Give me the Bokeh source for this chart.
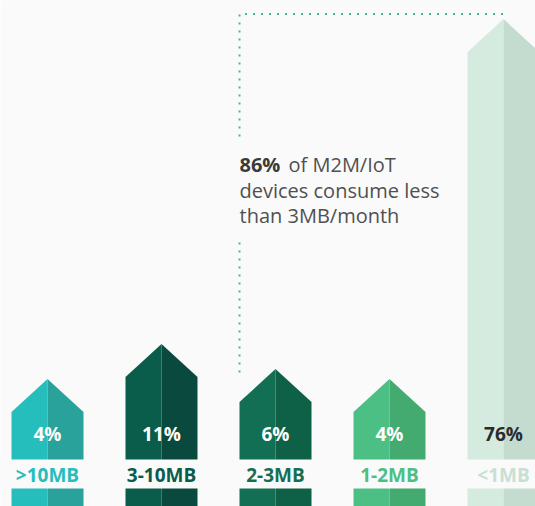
import re
from bokeh.plotting import figure
from bokeh.models import ColumnDataSource, Range1d
from bokeh.core.properties import value
from bokeh.embed import file_html
from bokeh.resources import INLINE

# ---- data ----
categories = [">10MB", "3-10MB", "2-3MB", "1-2MB", "<1MB"]
shares = [4, 11, 6, 4, 76]
small_users = ["2-3MB", "1-2MB", "<1MB"]   # categories below 3MB/month

# ---- styles ----
BG = "#fafafa"
left_colors = ["#26bdbd", "#0a5c4b", "#136f54", "#4cbf84", "#d5ebe0"]
right_colors = ["#2aa29c", "#0a4a3e", "#0e6047", "#43ab70", "#c4dcd0"]
label_colors = ["#26bdbd", "#0a5c4b", "#136f54", "#4cbf84", "#c8e0d4"]
pct_colors = ["#ffffff", "#ffffff", "#ffffff", "#ffffff", "#2b2b2b"]
FONT = value("Open Sans")

W, H = 535, 506
PX_X = 114.0   # pixels per category step
PX_Y = 5.0     # pixels per percentage point
x0 = -47.0 / PX_X
y_top = 398.5 / PX_Y
p = figure(width=W, height=H, output_backend="svg", toolbar_location=None,
           x_range=Range1d(x0, x0 + W / PX_X),
           y_range=Range1d(y_top - H / PX_Y, y_top),
           x_axis_location=None, y_axis_location=None,
           min_border=0, outline_line_color=None,
           background_fill_color=BG, border_fill_color=BG)
p.grid.visible = False

hw = 36.0 / PX_X      # half bar width
head = 33.0 / PX_Y    # arrow head height
bottom = y_top - (H + 40) / PX_Y

idx = list(range(len(categories)))
lx, ly, rx, ry = [], [], [], []
for i, v in zip(idx, shares):
    lx.append([i - hw, i - hw, i, i])
    ly.append([bottom, v - head, v, bottom])
    rx.append([i, i, i + hw, i + hw])
    ry.append([bottom, v, v - head, bottom])

p.patches(xs=lx, ys=ly, fill_color=left_colors, line_color=None)
p.patches(xs=rx, ys=ry, fill_color=right_colors, line_color=None)

# label band
band_top = y_top - 459 / PX_Y
band_bot = y_top - 488 / PX_Y
p.quad(left=x0 - 1, right=x0 + W / PX_X + 1, bottom=band_bot, top=band_top,
       fill_color=BG, line_color=None)

src = ColumnDataSource(dict(x=idx, pct=[f"{v}%" for v in shares], cat=categories,
                            pc=pct_colors, lc=label_colors))
p.text(x="x", y=y_top - 433 / PX_Y, text="pct", source=src, text_color="pc",
       text_align="center", text_baseline="middle", text_font=FONT,
       text_font_style="bold", text_font_size="19px")
p.text(x="x", y=y_top - 474 / PX_Y, text="cat", source=src, text_color="lc",
       text_align="center", text_baseline="middle", text_font=FONT,
       text_font_style="bold", text_font_size="19px")

# annotation
first = categories.index(small_users[0])
last = categories.index(small_users[-1])
total_small = sum(shares[categories.index(c)] for c in small_users)
ax = first - hw
atop = max(shares) + 1
DOT = dict(line_color="#3fbf80", line_width=2, line_dash="2 6", line_cap="butt")
p.line(x=[ax, ax, last], y=[y_top - 136 / PX_Y, atop, atop], **DOT)
p.line(x=[ax, ax], y=[y_top - 242 / PX_Y, y_top - 378 / PX_Y], **DOT)

p.text(x=[ax], y=[y_top - 164 / PX_Y], text=[f"{total_small}%"], text_color="#3a3a3a",
       text_align="left", text_baseline="middle", text_font=FONT,
       text_font_style="bold", text_font_size="20px")
p.text(x=[ax], y=[y_top - 164 / PX_Y], text=["of M2M/IoT"], x_offset=49,
       text_color="#505050", text_align="left", text_baseline="middle",
       text_font=FONT, text_font_size="20px")
p.text(x=[ax, ax], y=[y_top - 190 / PX_Y, y_top - 215 / PX_Y],
       text=["devices consume less", "than 3MB/month"],
       text_color="#505050", text_align="left", text_baseline="middle",
       text_font=FONT, text_font_size="20px")

html = file_html(p, INLINE)
html = re.sub(r"<body[^>]*>", f'<body style="margin:0;background-color:{BG};overflow:hidden">', html, count=1)
open("out.html", "w").write(html)
